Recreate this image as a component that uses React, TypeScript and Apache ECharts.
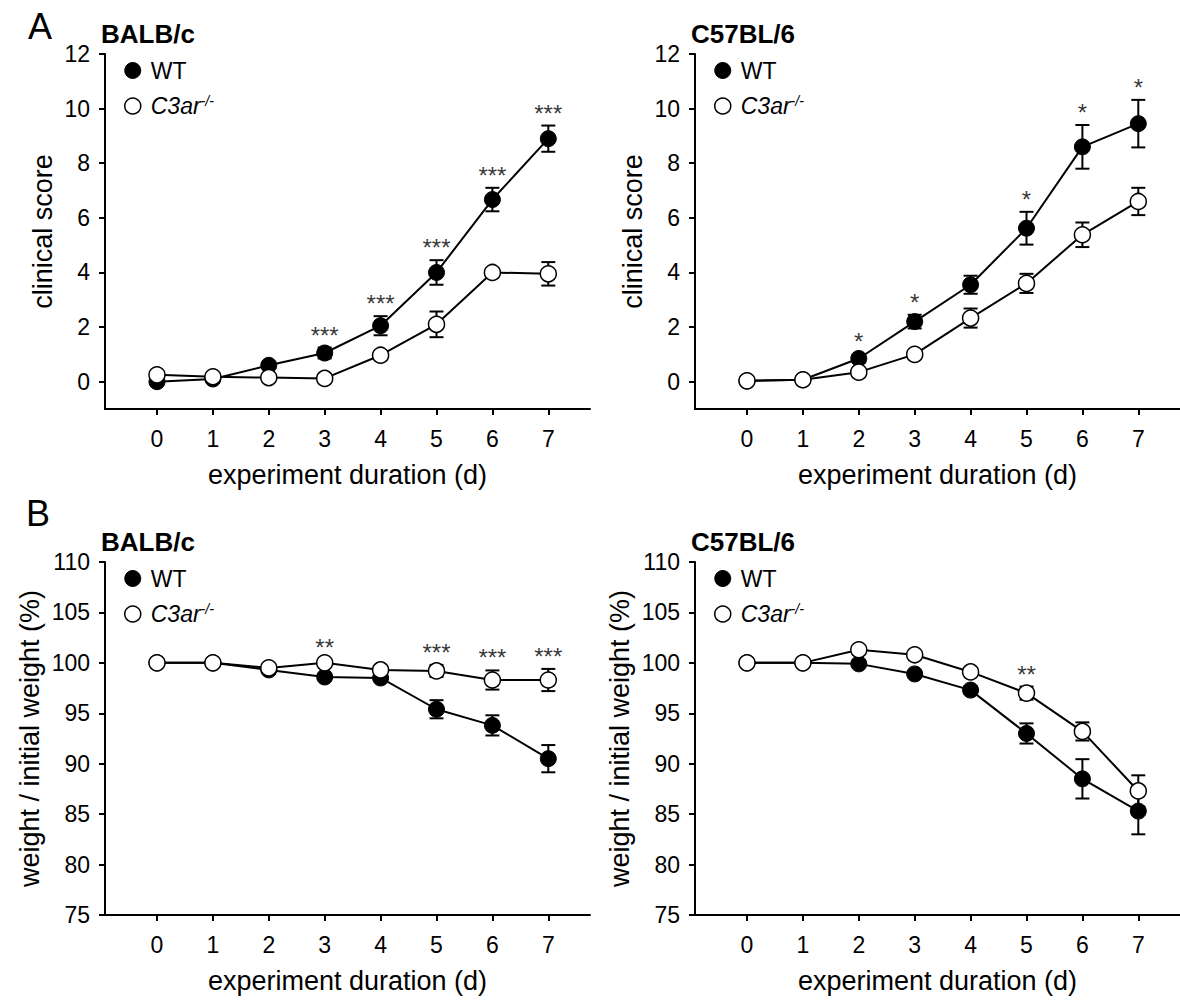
import React, { useEffect, useRef } from 'react';
import * as echarts from 'echarts';

// ---------- data ----------
const days = [0, 1, 2, 3, 4, 5, 6, 7];
const xTicks = [0, 1, 2, 3, 4, 5, 6, 7];
const scoreTicks = [0, 2, 4, 6, 8, 10, 12];
const weightTicks = [75, 80, 85, 90, 95, 100, 105, 110];

// A, BALB/c clinical score
const balbScoreWT = [0.0, 0.1, 0.6, 1.05, 2.05, 4.0, 6.67, 8.9];
const balbScoreWTErr = [0, 0, 0.1, 0.2, 0.35, 0.45, 0.43, 0.48];
const balbScoreKO = [0.25, 0.18, 0.15, 0.12, 0.97, 2.1, 4.0, 3.95];
const balbScoreKOErr = [0, 0, 0, 0, 0.15, 0.47, 0.15, 0.43];
const balbScoreStars = ['', '', '', '***', '***', '***', '***', '***'];

// A, C57BL/6 clinical score
const b6ScoreWT = [0.03, 0.07, 0.85, 2.2, 3.55, 5.62, 8.6, 9.45];
const b6ScoreWTErr = [0, 0, 0.15, 0.25, 0.33, 0.6, 0.8, 0.87];
const b6ScoreKO = [0.03, 0.07, 0.35, 1.0, 2.33, 3.6, 5.38, 6.6];
const b6ScoreKOErr = [0, 0, 0.1, 0.1, 0.35, 0.35, 0.45, 0.5];
const b6ScoreStars = ['', '', '*', '*', '', '*', '*', '*'];

// B, BALB/c weight
const balbWeightWT = [100, 100, 99.3, 98.6, 98.5, 95.4, 93.8, 90.5];
const balbWeightWTErr = [0, 0, 0.2, 0.3, 0.3, 0.9, 1.0, 1.35];
const balbWeightKO = [100, 100, 99.5, 100, 99.3, 99.2, 98.3, 98.3];
const balbWeightKOErr = [0, 0, 0.2, 0.3, 0.3, 0.6, 0.95, 1.1];
const balbWeightStars = ['', '', '', '**', '', '***', '***', '***'];

// B, C57BL/6 weight
const b6WeightWT = [100, 100, 99.9, 98.9, 97.3, 93.0, 88.5, 85.3];
const b6WeightWTErr = [0, 0, 0.2, 0.3, 0.4, 1.0, 1.95, 2.3];
const b6WeightKO = [100, 100, 101.3, 100.8, 99.1, 97.0, 93.2, 87.3];
const b6WeightKOErr = [0, 0, 0.2, 0.3, 0.3, 0.65, 0.9, 1.55];
const b6WeightStars = ['', '', '', '', '', '**', '', ''];

const FONT = '"Liberation Sans", Arial, Helvetica, sans-serif';
const WT_NAME = 'WT';
const KO_NAME = 'C3ar-/-';

type Panel = {
  strain: string;
  left: number;
  top: number;
  height: number;
  yMin: number;
  yMax: number;
  yTicks: number[];
  yName: string;
  yNameGap: number;
  wt: number[];
  wtErr: number[];
  ko: number[];
  koErr: number[];
  stars: string[];
};

const panels: Panel[] = [
  { strain: 'BALB/c', left: 105, top: 54, height: 355, yMin: -1, yMax: 12, yTicks: scoreTicks, yName: 'clinical score', yNameGap: 49,
    wt: balbScoreWT, wtErr: balbScoreWTErr, ko: balbScoreKO, koErr: balbScoreKOErr, stars: balbScoreStars },
  { strain: 'C57BL/6', left: 695, top: 54, height: 355, yMin: -1, yMax: 12, yTicks: scoreTicks, yName: 'clinical score', yNameGap: 49,
    wt: b6ScoreWT, wtErr: b6ScoreWTErr, ko: b6ScoreKO, koErr: b6ScoreKOErr, stars: b6ScoreStars },
  { strain: 'BALB/c', left: 105, top: 562, height: 353, yMin: 75, yMax: 110, yTicks: weightTicks, yName: 'weight / initial weight (%)', yNameGap: 62,
    wt: balbWeightWT, wtErr: balbWeightWTErr, ko: balbWeightKO, koErr: balbWeightKOErr, stars: balbWeightStars },
  { strain: 'C57BL/6', left: 695, top: 562, height: 353, yMin: 75, yMax: 110, yTicks: weightTicks, yName: 'weight / initial weight (%)', yNameGap: 62,
    wt: b6WeightWT, wtErr: b6WeightWTErr, ko: b6WeightKO, koErr: b6WeightKOErr, stars: b6WeightStars },
];

const X_MIN = -0.93;
const X_MAX = 7.746;
const GRID_W = 485;

function errorBarRender(params: any, api: any) {
  const x = api.value(0);
  const lo = api.coord([x, api.value(1)]);
  const hi = api.coord([x, api.value(2)]);
  const hw = 7;
  const style = { stroke: '#000', lineWidth: 2 };
  return {
    type: 'group',
    children: [
      { type: 'line', shape: { x1: lo[0], y1: lo[1], x2: hi[0], y2: hi[1] }, style },
      { type: 'line', shape: { x1: hi[0] - hw, y1: hi[1], x2: hi[0] + hw, y2: hi[1] }, style },
      { type: 'line', shape: { x1: lo[0] - hw, y1: lo[1], x2: lo[0] + hw, y2: lo[1] }, style },
    ],
  };
}

function buildOption() {
  const title: any[] = [
    { text: 'A', left: 28, top: 8, padding: 0, textStyle: { fontSize: 36, fontWeight: 'normal', fontFamily: FONT, color: '#000' } },
    { text: 'B', left: 26, top: 495, padding: 0, textStyle: { fontSize: 36, fontWeight: 'normal', fontFamily: FONT, color: '#000' } },
  ];
  const legend: any[] = [];
  const grid: any[] = [];
  const xAxis: any[] = [];
  const yAxis: any[] = [];
  const series: any[] = [];

  panels.forEach((p, i) => {
    title.push({
      text: p.strain, left: p.left - 4, top: p.top - 33, padding: 0,
      textStyle: { fontSize: 26, fontWeight: 'bold', fontFamily: FONT, color: '#000' },
    });
    legend.push({
      orient: 'vertical', left: p.left + 19, top: p.top + 5, padding: 0, itemGap: 12,
      icon: 'circle', itemWidth: 16, itemHeight: 16, selectedMode: false,
      data: [
        { name: WT_NAME, itemStyle: { color: '#000', borderColor: '#000', borderWidth: 1 } },
        { name: KO_NAME, itemStyle: { color: '#fff', borderColor: '#000', borderWidth: 1.5 } },
      ],
      formatter: (name: string) => (name === WT_NAME ? '{n|WT}' : '{i|C3ar}{s|-/-}'),
      textStyle: {
        color: '#000', fontFamily: FONT, fontSize: 23,
        rich: {
          n: { fontSize: 23, fontFamily: FONT, color: '#000', padding: [0, 0, 0, 5], lineHeight: 24 },
          i: { fontSize: 23, fontFamily: FONT, color: '#000', fontStyle: 'italic', padding: [0, 0, 0, 5], lineHeight: 24 },
          s: { fontSize: 14, fontFamily: FONT, color: '#000', fontStyle: 'italic', verticalAlign: 'top', lineHeight: 14 },
        },
      },
    });
    grid.push({ left: p.left, top: p.top, width: GRID_W, height: p.height });
    xAxis.push({
      type: 'value', gridIndex: i, min: X_MIN, max: X_MAX,
      name: 'experiment duration (d)', nameLocation: 'middle', nameGap: 52,
      nameTextStyle: { fontSize: 27, color: '#000', fontFamily: FONT },
      axisLine: { onZero: false, lineStyle: { color: '#000', width: 2 } },
      axisTick: { customValues: xTicks, length: 6, lineStyle: { color: '#000', width: 2 } },
      axisLabel: { customValues: xTicks, fontSize: 23, color: '#000', fontFamily: FONT, margin: 18 },
      splitLine: { show: false },
    });
    yAxis.push({
      type: 'value', gridIndex: i, min: p.yMin, max: p.yMax,
      name: p.yName, nameLocation: 'middle', nameGap: p.yNameGap,
      nameTextStyle: { fontSize: 27, color: '#000', fontFamily: FONT },
      axisLine: { show: true, onZero: false, lineStyle: { color: '#000', width: 2 } },
      axisTick: { show: true, customValues: p.yTicks, length: 6, lineStyle: { color: '#000', width: 2 } },
      axisLabel: { customValues: p.yTicks, fontSize: 23, color: '#000', fontFamily: FONT, margin: 15 },
      splitLine: { show: false },
    });

    const errData = (vals: number[], errs: number[]) =>
      days.filter((_, j) => errs[j] > 0).map((d) => {
        const j = days.indexOf(d);
        return [d, vals[j] - errs[j], vals[j] + errs[j]];
      });

    series.push({
      type: 'custom', xAxisIndex: i, yAxisIndex: i, z: 1, silent: true,
      renderItem: errorBarRender, encode: { x: 0, y: [1, 2] },
      data: errData(p.wt, p.wtErr),
    });
    series.push({
      type: 'custom', xAxisIndex: i, yAxisIndex: i, z: 1, silent: true,
      renderItem: errorBarRender, encode: { x: 0, y: [1, 2] },
      data: errData(p.ko, p.koErr),
    });
    series.push({
      type: 'line', name: WT_NAME, xAxisIndex: i, yAxisIndex: i, z: 2,
      symbol: 'circle', symbolSize: 16, showAllSymbol: true,
      lineStyle: { color: '#000', width: 2 },
      itemStyle: { color: '#000', borderColor: '#000', borderWidth: 1 },
      data: days.map((d, j) => [d, p.wt[j]]),
    });
    series.push({
      type: 'line', name: KO_NAME, xAxisIndex: i, yAxisIndex: i, z: 3,
      symbol: 'circle', symbolSize: 16, showAllSymbol: true,
      lineStyle: { color: '#000', width: 2 },
      itemStyle: { color: '#fff', borderColor: '#000', borderWidth: 1.5 },
      data: days.map((d, j) => [d, p.ko[j]]),
    });
    series.push({
      type: 'scatter', xAxisIndex: i, yAxisIndex: i, z: 4, silent: true,
      symbolSize: 1, itemStyle: { color: 'transparent' },
      label: {
        show: true, position: 'top', distance: 0, formatter: '{b}',
        fontSize: 24, color: '#000', fontFamily: FONT,
      },
      data: days
        .filter((_, j) => p.stars[j] !== '')
        .map((d) => {
          const j = days.indexOf(d);
          return { name: p.stars[j], value: [d, Math.max(p.wt[j] + p.wtErr[j], p.ko[j] + p.koErr[j])] };
        }),
    });
  });

  return {
    animation: false,
    backgroundColor: '#fff',
    textStyle: { fontFamily: FONT, color: '#000' },
    title, legend, grid, xAxis, yAxis, series,
  };
}

export default function App() {
  const ref = useRef<HTMLDivElement>(null);
  useEffect(() => {
    if (!ref.current) return;
    const chart = echarts.init(ref.current, undefined, { renderer: 'svg' });
    chart.setOption(buildOption() as any);
    return () => chart.dispose();
  }, []);
  return (
    <div
      ref={ref}
      style={{ position: 'fixed', left: 0, top: 0, width: 1180, height: 1001, background: '#fff' }}
    />
  );
}
